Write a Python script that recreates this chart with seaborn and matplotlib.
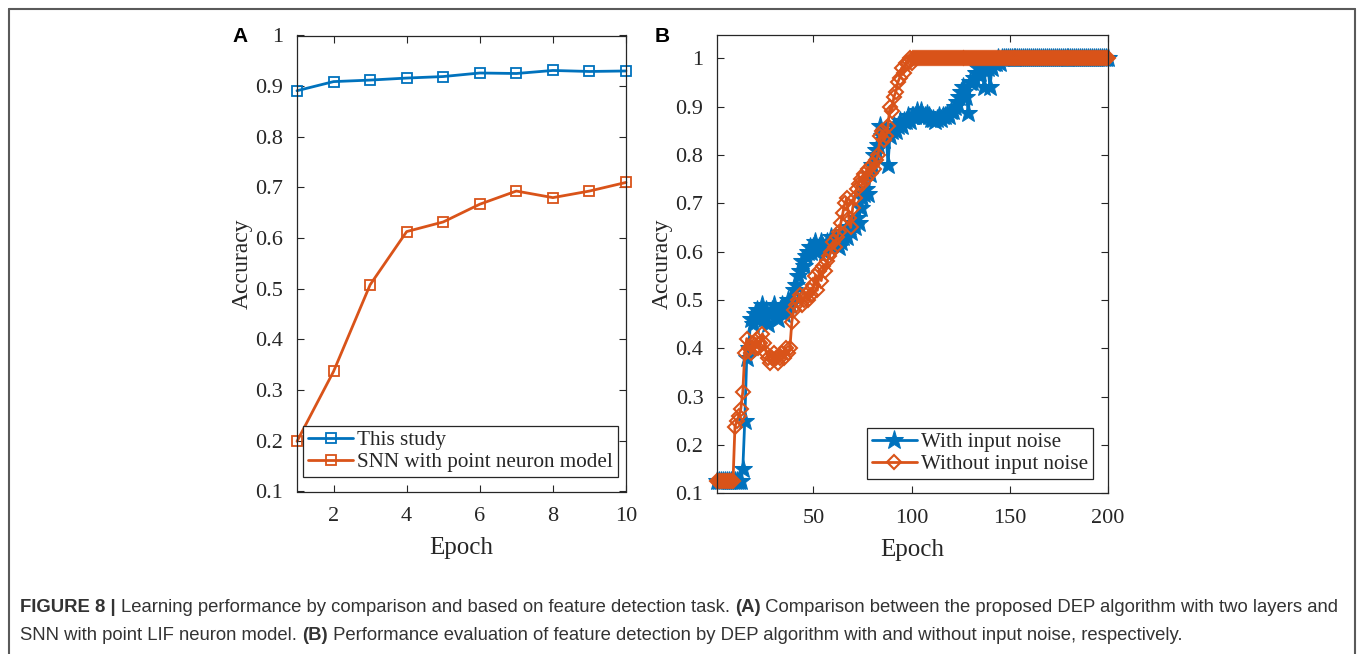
import numpy as np
import pandas as pd
import matplotlib
matplotlib.use("Agg")
import matplotlib.pyplot as plt
from matplotlib import font_manager
import seaborn as sns

# ---------------- data ----------------
epochs_a = [1, 2, 3, 4, 5, 6, 7, 8, 9, 10]
this_study = [0.891, 0.909, 0.912, 0.916, 0.919, 0.926, 0.925, 0.931, 0.929, 0.930]
snn_point = [0.199, 0.337, 0.508, 0.613, 0.632, 0.667, 0.693, 0.680, 0.693, 0.710]

with_noise = [
    0.125, 0.125, 0.125, 0.125, 0.125, 0.125, 0.125, 0.125, 0.125, 0.125,
    0.125, 0.125, 0.125, 0.150, 0.250, 0.380, 0.400, 0.460, 0.450, 0.470,
    0.480, 0.460, 0.470, 0.490, 0.460, 0.480, 0.450, 0.470, 0.480, 0.490,
    0.470, 0.460, 0.480, 0.490, 0.470, 0.480, 0.500, 0.490, 0.500, 0.520,
    0.530, 0.550, 0.560, 0.580, 0.570, 0.590, 0.600, 0.610, 0.600, 0.610,
    0.620, 0.600, 0.610, 0.620, 0.610, 0.600, 0.620, 0.610, 0.630, 0.620,
    0.630, 0.620, 0.610, 0.620, 0.630, 0.640, 0.630, 0.650, 0.640, 0.660,
    0.650, 0.670, 0.660, 0.690, 0.710, 0.720, 0.730, 0.720, 0.760, 0.780,
    0.800, 0.810, 0.820, 0.860, 0.840, 0.830, 0.850, 0.780, 0.840, 0.850,
    0.860, 0.850, 0.860, 0.870, 0.860, 0.870, 0.870, 0.880, 0.870, 0.880,
    0.880, 0.880, 0.890, 0.880, 0.890, 0.880, 0.880, 0.885, 0.880, 0.875,
    0.875, 0.870, 0.875, 0.880, 0.875, 0.880, 0.880, 0.885, 0.880, 0.890,
    0.890, 0.900, 0.910, 0.920, 0.930, 0.940, 0.930, 0.920, 0.886, 0.950,
    0.950, 0.960, 0.970, 0.980, 0.970, 0.980, 0.940, 0.990, 0.980, 0.940,
    0.980, 0.990, 0.990, 1.000, 0.990, 1.000, 1.000, 1.000, 1.000, 1.000,
    1.000, 1.000, 1.000, 1.000, 1.000, 1.000, 1.000, 1.000, 1.000, 1.000,
    1.000, 1.000, 1.000, 1.000, 1.000, 1.000, 1.000, 1.000, 1.000, 1.000,
    1.000, 1.000, 1.000, 1.000, 1.000, 1.000, 1.000, 1.000, 1.000, 1.000,
    1.000, 1.000, 1.000, 1.000, 1.000, 1.000, 1.000, 1.000, 1.000, 1.000,
    1.000, 1.000, 1.000, 1.000, 1.000, 1.000, 1.000, 1.000, 1.000, 1.000,
]
without_noise = [
    0.125, 0.125, 0.125, 0.125, 0.125, 0.125, 0.125, 0.125, 0.125, 0.238,
    0.250, 0.260, 0.275, 0.310, 0.390, 0.420, 0.400, 0.390, 0.410, 0.400,
    0.420, 0.400, 0.410, 0.430, 0.410, 0.390, 0.380, 0.370, 0.380, 0.390,
    0.380, 0.370, 0.380, 0.390, 0.380, 0.400, 0.390, 0.400, 0.455, 0.480,
    0.490, 0.500, 0.510, 0.490, 0.500, 0.510, 0.500, 0.520, 0.510, 0.530,
    0.550, 0.520, 0.560, 0.540, 0.570, 0.560, 0.580, 0.590, 0.600, 0.620,
    0.610, 0.630, 0.640, 0.660, 0.680, 0.700, 0.710, 0.670, 0.650, 0.690,
    0.710, 0.730, 0.740, 0.750, 0.740, 0.760, 0.750, 0.770, 0.760, 0.780,
    0.770, 0.790, 0.800, 0.840, 0.850, 0.830, 0.840, 0.860, 0.900, 0.890,
    0.920, 0.930, 0.950, 0.960, 0.980, 0.970, 0.990, 0.990, 1.000, 0.990,
    1.000, 1.000, 1.000, 1.000, 1.000, 1.000, 1.000, 1.000, 1.000, 1.000,
    1.000, 1.000, 1.000, 1.000, 1.000, 1.000, 1.000, 1.000, 1.000, 1.000,
    1.000, 1.000, 1.000, 1.000, 1.000, 1.000, 1.000, 1.000, 1.000, 1.000,
    1.000, 1.000, 1.000, 1.000, 1.000, 1.000, 1.000, 1.000, 1.000, 1.000,
    1.000, 1.000, 1.000, 1.000, 1.000, 1.000, 1.000, 1.000, 1.000, 1.000,
    1.000, 1.000, 1.000, 1.000, 1.000, 1.000, 1.000, 1.000, 1.000, 1.000,
    1.000, 1.000, 1.000, 1.000, 1.000, 1.000, 1.000, 1.000, 1.000, 1.000,
    1.000, 1.000, 1.000, 1.000, 1.000, 1.000, 1.000, 1.000, 1.000, 1.000,
    1.000, 1.000, 1.000, 1.000, 1.000, 1.000, 1.000, 1.000, 1.000, 1.000,
    1.000, 1.000, 1.000, 1.000, 1.000, 1.000, 1.000, 1.000, 1.000, 1.000,
]
epochs_b = list(range(1, len(with_noise) + 1))

labels_a = ["This study", "SNN with point neuron model"]
labels_b = ["With input noise", "Without input noise"]
yticks = [0.1, 0.2, 0.3, 0.4, 0.5, 0.6, 0.7, 0.8, 0.9, 1.0]
ytick_labels = ["0.1", "0.2", "0.3", "0.4", "0.5", "0.6", "0.7", "0.8", "0.9", "1"]
xticks_a = [2, 4, 6, 8, 10]
xticks_b = [50, 100, 150, 200]

caption_1 = [("FIGURE 8 | ", True),
             ("Learning performance by comparison and based on feature detection task. ", False),
             ("(A)", True),
             (" Comparison between the proposed DEP algorithm with two layers and", False)]
caption_2 = [("SNN with point LIF neuron model. ", False),
             ("(B)", True),
             (" Performance evaluation of feature detection by DEP algorithm with and without input noise, respectively.", False)]

# ---------------- style ----------------
sns.set_theme(style="ticks")
SERIF = "Liberation Serif"
plt.rcParams["font.family"] = [SERIF, "DejaVu Serif"]
plt.rcParams["xtick.direction"] = "in"
plt.rcParams["ytick.direction"] = "in"
BLUE = "#0072BD"
ORANGE = "#D95319"
AXC = "#262626"

W, H = 1358, 654
fig = plt.figure(figsize=(W / 100, H / 100), dpi=100)
fig.patch.set_facecolor("white")


def ax_rect(l, t, r, b):
    return [l / W, 1 - b / H, (r - l) / W, (b - t) / H]


def style_axes(ax):
    for s in ax.spines.values():
        s.set_color(AXC)
        s.set_linewidth(0.9)
    ax.tick_params(axis="both", which="both", direction="in", top=True, right=True,
                   length=5, width=0.8, color=AXC, labelsize=16, labelcolor=AXC)
    ax.tick_params(axis="x", pad=11)
    ax.tick_params(axis="y", pad=10)
    for lab in ax.get_xticklabels() + ax.get_yticklabels():
        lab.set_family(SERIF)
    ax.grid(False)
    for ln in ax.get_lines():
        ln.set_clip_on(False)


LEG_KW = dict(frameon=True, fancybox=False, edgecolor=AXC,
              handlelength=2.15, handletextpad=0.2, borderpad=0.22, labelspacing=0.12,
              borderaxespad=0.0, prop={"family": SERIF, "size": 15.2})

# ---------------- panel A ----------------
axA = fig.add_axes(ax_rect(297, 35.5, 626, 491.5))
dfA = pd.DataFrame({"Epoch": epochs_a * 2,
                    "Accuracy": this_study + snn_point,
                    "Series": [labels_a[0]] * len(epochs_a) + [labels_a[1]] * len(epochs_a)})
sns.lineplot(data=dfA, x="Epoch", y="Accuracy", hue="Series", palette=[BLUE, ORANGE],
             marker="s", markersize=6.5, markerfacecolor="none", markeredgewidth=1.3,
             linewidth=2.0, ax=axA, legend=False)
for ln, c in zip(axA.get_lines(), [BLUE, ORANGE]):
    ln.set_markeredgecolor(c)
axA.set_xlim(1, 10)
axA.set_ylim(0.1, 1.0)
axA.set_xticks(xticks_a)
axA.set_xticklabels([str(v) for v in xticks_a])
axA.set_yticks(yticks)
axA.set_yticklabels(ytick_labels)
axA.set_xlabel("Epoch", fontsize=18, color=AXC, family=SERIF, labelpad=8)
axA.set_ylabel("Accuracy", fontsize=17, color=AXC, family=SERIF, labelpad=2)
style_axes(axA)
legA = axA.legend(axA.get_lines(), labels_a, loc="lower right",
                  bbox_to_anchor=((618 - 297) / 329, (491.5 - 477) / 456), **LEG_KW)
legA.get_frame().set_linewidth(0.9)
legA.get_frame().set_alpha(1)

# ---------------- panel B ----------------
axB = fig.add_axes(ax_rect(717.3, 35, 1107.7, 493.3))
dfB = pd.DataFrame({"Epoch": epochs_b * 2,
                    "Accuracy": with_noise + without_noise,
                    "Series": [labels_b[0]] * len(epochs_b) + [labels_b[1]] * len(epochs_b)})
sns.lineplot(data=dfB[dfB["Series"] == labels_b[0]], x="Epoch", y="Accuracy",
             color=BLUE, marker="*", markersize=14, markeredgecolor=BLUE,
             markerfacecolor=BLUE, linewidth=2.0, ax=axB, legend=False)
sns.lineplot(data=dfB[dfB["Series"] == labels_b[1]], x="Epoch", y="Accuracy",
             color=ORANGE, marker="D", markersize=7, markeredgecolor=ORANGE,
             markerfacecolor="none", markeredgewidth=1.5, linewidth=2.0, ax=axB, legend=False)
axB.set_xlim(1, 200)
axB.set_ylim(0.1, 1.048)
axB.set_xticks(xticks_b)
axB.set_xticklabels([str(v) for v in xticks_b])
axB.set_yticks(yticks)
axB.set_yticklabels(ytick_labels)
axB.set_xlabel("Epoch", fontsize=18, color=AXC, family=SERIF, labelpad=8)
axB.set_ylabel("Accuracy", fontsize=17, color=AXC, family=SERIF, labelpad=2)
style_axes(axB)
legB = axB.legend(axB.get_lines(), labels_b, loc="lower right",
                  bbox_to_anchor=((1093 - 717.3) / 390.4, (493.3 - 479) / 458.3), **LEG_KW)
legB.get_frame().set_linewidth(0.9)
legB.get_frame().set_alpha(1)

# ---------------- panel letters ----------------
fig.text(240 / W, 1 - 36 / H, "A", fontsize=15, fontweight="bold", family="Liberation Sans",
         ha="center", va="center", color="black")
fig.text(662 / W, 1 - 36 / H, "B", fontsize=15, fontweight="bold", family="Liberation Sans",
         ha="center", va="center", color="black")

# ---------------- outer frame ----------------
frame_col = "#5a5a5a"
fig.add_artist(plt.Line2D([8.5 / W, 8.5 / W], [0, 1 - 9 / H], transform=fig.transFigure,
                          color=frame_col, lw=1.5))
fig.add_artist(plt.Line2D([8.5 / W, 1355 / W], [1 - 9 / H, 1 - 9 / H], transform=fig.transFigure,
                          color=frame_col, lw=1.5))
fig.add_artist(plt.Line2D([1355 / W, 1355 / W], [0, 1 - 9 / H], transform=fig.transFigure,
                          color=frame_col, lw=1.5))

# ---------------- caption ----------------
names = {f.name for f in font_manager.fontManager.ttflist}
cap_font = "Liberation Sans Narrow" if "Liberation Sans Narrow" in names else "Liberation Sans"
renderer = fig.canvas.get_renderer()


def draw_line(pieces, x0, y, size):
    x = x0
    arts = []
    for txt, bold in pieces:
        t = fig.text(x / W, 1 - y / H, txt, fontsize=size, family=cap_font,
                     fontweight="bold" if bold else "normal", color="#333333",
                     ha="left", va="center")
        bb = t.get_window_extent(renderer=renderer)
        x += bb.width
        arts.append(t)
    return x, arts


end1, arts = draw_line(caption_1, 20, 607, 12)
width = end1 - 20
for a in arts:
    a.remove()
size = 12 * (1322 / width)
draw_line(caption_1, 20, 607, size)
draw_line(caption_2, 20, 635, size)

fig.savefig("out.png", dpi=100, facecolor="white")
